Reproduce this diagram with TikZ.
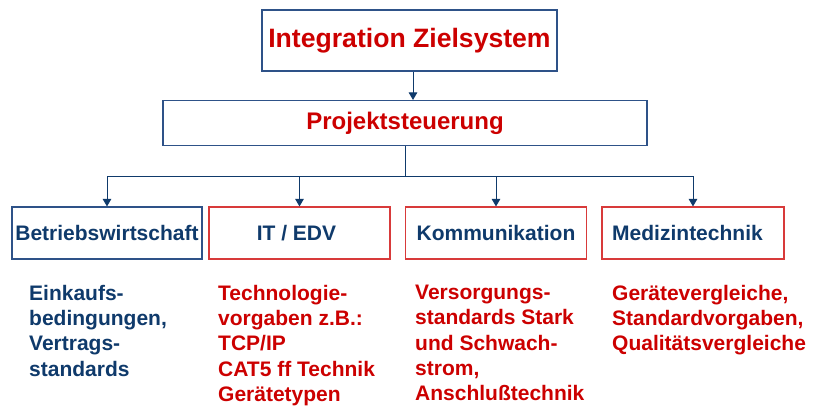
\documentclass[tikz,border=0pt]{standalone}
\usepackage{fontspec}
\setmainfont{Liberation Sans}
\usetikzlibrary{arrows.meta}
\definecolor{navy}{HTML}{0F3A6B}
\definecolor{boxblue}{HTML}{2E5288}
\definecolor{myred}{HTML}{CC0000}
\definecolor{boxred}{HTML}{D83A3A}
\tikzset{
  box/.style={draw=#1, line width=1.1pt, rectangle, inner sep=0pt, font=\bfseries},
  conn/.style={draw=navy, line width=1pt},
  arr/.style={conn, -{Triangle[length=7.5pt,width=8.5pt]}},
  lbl/.style={text=navy, font=\bfseries\fontsize{21}{25}\selectfont},
  body/.style={anchor=north west, align=left, inner sep=0pt, font=\bfseries\fontsize{21}{25.2}\selectfont}
}
\begin{document}
\begin{tikzpicture}[x=1pt,y=-1pt]
\useasboundingbox (0,0) rectangle (815,408);
\node[box=boxblue, minimum width=295pt, minimum height=61pt, text=myred, font=\bfseries\fontsize{26.6}{30}\selectfont] (top) at (409.5,40.5) {Integration Zielsystem};
\node[box=boxblue, minimum width=484pt, minimum height=45pt, text=myred, font=\bfseries\fontsize{24}{28}\selectfont] (ps) at (405,123) {Projektsteuerung};
\node[box=boxblue, minimum width=190pt, minimum height=52pt, lbl] (bw) at (107,233) {Betriebswirtschaft};
\node[box=boxred, minimum width=181pt, minimum height=52pt, lbl] (it) at (299.5,233) {\hspace*{-6pt}IT / EDV};
\node[box=boxred, minimum width=181pt, minimum height=52pt, lbl] (ko) at (496,233) {Kommunikation};
\node[box=boxred, minimum width=182pt, minimum height=52pt, lbl] (mt) at (693,233) {\hspace*{-11pt}Medizintechnik};
\coordinate (j) at (405,176);
\draw[arr] (top.south -| 413,0) -- (ps.north -| 413,0);
\draw[conn] (ps.south) -- (j);
\draw[arr] (j) -| (bw.north);
\draw[arr] (j) -| (it.north);
\draw[arr] (j) -| (ko.north);
\draw[arr] (j) -| (mt.north);
\node[body, text=navy] (t1) at (29,285) {Einkaufs-\\bedingungen,\\Vertrags-\\standards};
\node[body, text=myred] (t2) at (218,285) {Technologie-\\vorgaben z.B.:\\TCP/IP\\CAT5 ff Technik\\Gerätetypen};
\node[body, text=myred] (t3) at (415,285) {Versorgungs-\\standards Stark\\und Schwach-\\strom,\\Anschlußtechnik};
\node[body, text=myred] (t4) at (612,285) {Gerätevergleiche,\\Standardvorgaben,\\Qualitätsvergleiche};
\end{tikzpicture}
\end{document}
